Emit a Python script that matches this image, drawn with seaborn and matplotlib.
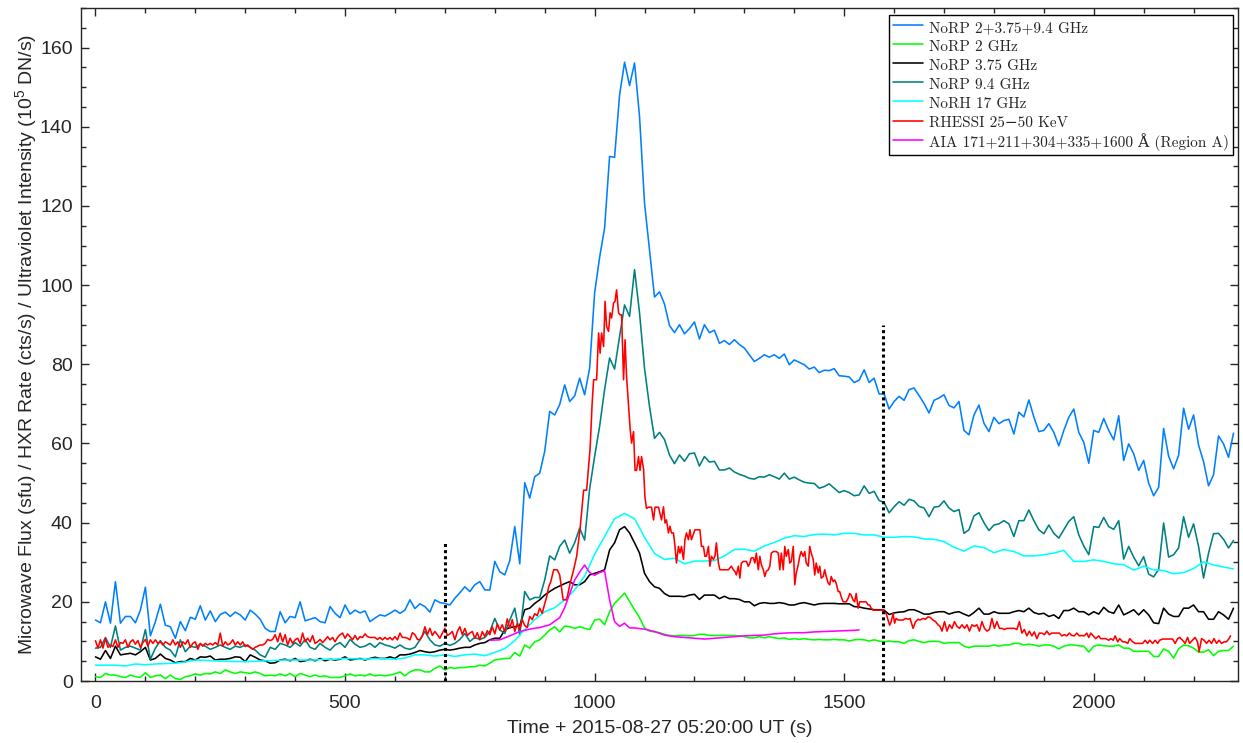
import numpy as np
import matplotlib
matplotlib.use("Agg")
import matplotlib.pyplot as plt
import seaborn as sns
from matplotlib.font_manager import FontProperties
from matplotlib.ticker import MultipleLocator

# ---------------- data ----------------
# NoRP series sampled every 10 s from 0 to 2280 s
t_norp = np.arange(0, 2290, 10)

norp_sum = [
    15.4, 14.7, 20.0, 14.6, 25.1, 14.6, 16.3, 16.3, 14.7, 17.9,
    23.7, 11.4, 15.0, 19.4, 14.1, 13.7, 10.8, 15.0, 12.7, 16.1,
    15.6, 19.0, 15.4, 17.7, 15.0, 16.8, 17.4, 16.3, 17.4, 16.7,
    15.4, 17.9, 16.9, 15.6, 13.3, 12.5, 12.5, 17.5, 14.7, 16.3,
    16.0, 20.0, 15.2, 15.6, 16.0, 15.0, 14.7, 18.8, 17.1, 16.0,
    19.2, 16.9, 17.9, 17.2, 17.7, 15.0, 15.9, 16.7, 16.4, 17.1,
    17.9, 17.1, 17.9, 20.5, 18.3, 19.5, 18.8, 17.4, 20.5, 19.8,
    19.6, 19.2, 20.9, 22.3, 23.8, 22.6, 24.3, 25.1, 23.0, 23.0,
    30.2, 27.6, 26.8, 30.4, 39.0, 29.6, 50.1, 46.2, 51.6, 52.5,
    58.0, 68.1, 67.2, 69.8, 74.8, 70.6, 72.0, 76.5, 72.3, 79.0,
    98.0, 107.0, 114.4, 132.5, 132.3, 148.0, 156.3, 150.4, 156.1, 142.6,
    120.7, 108.9, 97.0, 98.3, 95.2, 89.8, 88.0, 90.0, 87.7, 89.0,
    90.7, 86.4, 90.0, 88.0, 88.6, 85.3, 86.0, 85.0, 86.2, 85.0,
    84.1, 82.4, 80.7, 81.5, 82.4, 81.8, 82.4, 81.5, 82.6, 79.9,
    81.1, 80.5, 79.9, 78.8, 79.3, 77.9, 78.5, 78.4, 78.9, 77.1,
    77.0, 76.8, 75.4, 76.0, 78.6, 75.4, 76.5, 72.5, 72.5, 68.7,
    70.6, 71.9, 70.9, 73.6, 74.0, 72.1, 70.1, 67.7, 70.9, 71.5,
    72.3, 69.6, 69.0, 70.6, 63.3, 62.2, 67.2, 69.7, 65.1, 63.0,
    66.6, 65.0, 65.8, 66.1, 62.4, 67.9, 66.7, 71.0, 66.7, 63.0,
    63.3, 65.0, 62.8, 59.4, 63.3, 66.6, 68.7, 62.8, 60.3, 55.0,
    63.3, 62.8, 66.3, 63.3, 60.9, 67.0, 55.7, 59.9, 57.4, 53.2,
    55.7, 50.0, 46.8, 48.9, 63.8, 56.8, 53.6, 57.0, 68.9, 63.6,
    67.2, 59.6, 55.4, 49.3, 52.1, 61.9, 59.9, 56.5, 62.6,
]

norp_2 = [
    1.1, 0.9, 1.9, 1.5, 1.5, 1.1, 0.9, 1.5, 1.1, 0.9,
    2.1, 0.9, 1.3, 1.5, 0.6, 1.5, 0.6, 0.4, 1.1, 1.3,
    1.8, 1.5, 1.9, 1.8, 2.3, 1.9, 2.8, 2.3, 1.9, 2.3,
    2.1, 1.9, 2.3, 1.9, 1.3, 1.5, 1.3, 1.8, 1.3, 1.9,
    1.1, 1.9, 1.5, 1.1, 1.5, 1.1, 1.3, 0.9, 0.9, 0.9,
    1.3, 1.8, 1.3, 1.5, 1.3, 1.8, 1.3, 1.5, 1.3, 1.5,
    1.8, 2.3, 1.3, 2.3, 2.8, 2.8, 2.3, 2.3, 3.2, 3.8,
    2.8, 3.4, 3.2, 3.4, 3.4, 3.6, 3.6, 4.0, 3.8, 4.5,
    5.3, 5.5, 5.7, 5.7, 7.2, 6.3, 9.1, 8.3, 9.9, 10.4,
    11.6, 12.9, 13.7, 12.4, 13.9, 13.7, 13.3, 13.7, 13.3, 13.0,
    15.4, 15.6, 14.2, 17.5, 19.6, 20.9, 22.2, 20.1, 18.0, 16.0,
    13.4, 12.6, 12.4, 12.2, 11.8, 11.5, 11.4, 11.5, 11.5, 11.4,
    11.5, 11.8, 11.8, 11.5, 11.5, 11.5, 11.5, 11.5, 11.5, 11.4,
    11.2, 10.9, 10.9, 11.2, 10.9, 11.2, 10.9, 10.7, 10.9, 10.5,
    10.7, 10.5, 10.7, 10.5, 10.4, 10.5, 10.4, 10.4, 10.5, 10.4,
    10.4, 10.1, 10.4, 10.5, 10.4, 10.1, 10.4, 10.1, 9.9, 10.1,
    9.9, 9.9, 9.5, 10.2, 10.4, 10.0, 9.7, 10.0, 10.0, 10.0,
    9.5, 9.7, 9.7, 9.7, 8.8, 8.4, 8.8, 8.8, 8.8, 8.8,
    9.1, 8.8, 9.1, 9.1, 9.5, 9.5, 9.1, 9.3, 9.1, 8.8,
    9.1, 9.1, 8.8, 8.1, 8.8, 9.1, 9.1, 8.9, 8.8, 7.3,
    8.8, 9.1, 8.9, 8.8, 8.8, 9.1, 8.3, 8.3, 7.5, 7.5,
    7.5, 7.5, 6.2, 6.2, 8.1, 7.5, 5.8, 8.1, 9.1, 8.9,
    8.3, 7.3, 7.3, 7.9, 6.4, 7.5, 7.7, 7.7, 8.8,
]

norp_375 = [
    6.1, 5.5, 7.7, 5.7, 8.8, 6.6, 6.8, 7.0, 6.6, 7.4,
    8.5, 5.3, 5.7, 6.8, 5.7, 5.3, 4.6, 4.9, 4.9, 5.7,
    5.3, 6.1, 6.0, 6.3, 5.3, 5.5, 5.5, 5.7, 6.1, 6.0,
    4.9, 6.6, 6.0, 5.3, 5.1, 4.5, 4.6, 5.3, 5.5, 5.1,
    5.7, 4.9, 5.1, 5.5, 5.1, 5.7, 5.1, 5.5, 5.3, 5.5,
    6.1, 5.3, 5.5, 5.7, 5.3, 5.7, 6.0, 5.7, 5.7, 6.1,
    5.7, 6.6, 6.6, 6.8, 7.2, 7.7, 7.4, 7.2, 7.4, 7.8,
    8.0, 7.8, 8.0, 8.3, 8.5, 8.5, 9.1, 9.5, 9.7, 10.4,
    10.8, 10.8, 12.9, 13.5, 13.7, 14.0, 18.0, 18.4, 19.6, 20.5,
    21.7, 22.6, 23.4, 24.0, 24.6, 25.1, 24.3, 24.3, 25.1, 26.8,
    27.2, 27.6, 28.1, 33.1, 34.9, 38.2, 39.0, 37.4, 34.9, 32.3,
    27.2, 25.1, 23.8, 23.4, 22.1, 21.4, 21.4, 21.4, 21.3, 21.7,
    21.9, 20.6, 21.7, 21.7, 21.7, 20.8, 21.4, 20.8, 20.8, 20.6,
    20.0, 20.0, 19.0, 19.6, 19.8, 19.6, 19.6, 19.8, 19.6, 19.2,
    19.2, 19.6, 19.8, 19.5, 19.2, 19.5, 19.6, 19.6, 19.6, 19.5,
    19.5, 19.5, 18.8, 18.7, 18.4, 18.2, 18.0, 18.0, 17.9, 16.8,
    17.2, 17.4, 17.5, 18.0, 18.0, 17.5, 16.9, 16.9, 17.3, 17.5,
    17.5, 16.9, 17.3, 17.5, 16.9, 16.4, 17.3, 18.4, 16.9, 16.9,
    17.5, 17.1, 17.1, 17.1, 17.5, 17.8, 17.5, 18.4, 17.3, 16.9,
    17.1, 16.3, 16.7, 15.8, 17.8, 17.8, 18.4, 17.5, 17.5, 16.7,
    17.5, 16.9, 18.6, 17.5, 17.1, 19.2, 16.7, 17.3, 18.0, 16.7,
    18.0, 16.7, 14.7, 14.5, 18.4, 16.9, 16.3, 16.3, 18.4, 18.4,
    19.2, 17.5, 17.5, 15.6, 15.6, 17.5, 16.7, 15.6, 18.4,
]

norp_94 = [
    8.3, 8.5, 11.0, 8.5, 13.9, 7.8, 8.5, 8.8, 8.3, 7.8,
    13.0, 5.5, 8.3, 10.2, 8.5, 7.8, 6.1, 10.4, 7.4, 8.8,
    8.5, 9.3, 8.8, 8.0, 8.5, 9.1, 8.5, 8.0, 8.8, 8.5,
    9.1, 8.5, 7.8, 6.6, 6.0, 8.5, 8.0, 9.5, 9.1, 8.5,
    9.7, 8.8, 10.5, 8.5, 8.0, 9.5, 8.5, 7.8, 9.1, 9.7,
    8.5, 10.5, 9.3, 8.5, 8.8, 9.5, 8.5, 9.7, 9.1, 8.8,
    8.3, 9.1, 8.3, 8.0, 8.5, 10.4, 12.5, 10.4, 9.1, 8.8,
    9.5, 9.0, 9.5, 10.5, 12.0, 10.0, 11.0, 10.5, 11.0, 12.5,
    15.8, 12.9, 12.0, 15.4, 18.4, 11.6, 22.6, 20.5, 21.1, 21.1,
    25.5, 31.6, 30.6, 34.0, 35.6, 32.3, 34.9, 38.6, 35.6, 48.5,
    56.7, 64.3, 73.6, 81.6, 78.8, 87.0, 95.0, 92.1, 103.9, 93.0,
    79.0, 69.3, 61.3, 62.8, 61.0, 57.1, 54.9, 57.1, 55.5, 57.4,
    57.6, 54.3, 56.7, 55.3, 55.5, 53.3, 53.3, 53.8, 52.8, 52.2,
    51.8, 51.2, 51.0, 51.6, 51.5, 52.1, 51.6, 51.0, 52.5, 51.0,
    51.5, 50.8, 50.2, 50.0, 49.9, 48.7, 49.1, 49.8, 48.7, 47.6,
    48.1, 47.6, 46.8, 47.0, 49.3, 47.4, 47.9, 45.6, 45.1, 42.5,
    44.0, 45.3, 44.4, 45.9, 45.5, 44.1, 43.7, 41.5, 43.9, 44.1,
    45.5, 43.7, 42.8, 43.3, 37.3, 38.2, 41.7, 42.5, 40.0, 38.0,
    39.4, 39.7, 40.5, 39.7, 36.5, 40.5, 40.5, 43.2, 40.5, 38.2,
    37.2, 39.4, 37.3, 36.1, 38.2, 40.3, 41.5, 36.9, 34.1, 31.9,
    39.0, 38.8, 41.3, 39.0, 38.3, 40.5, 30.8, 34.0, 31.3, 29.1,
    31.4, 27.0, 26.3, 28.2, 39.9, 31.3, 31.9, 33.6, 41.5, 36.3,
    39.7, 34.0, 26.0, 32.3, 37.2, 37.3, 35.8, 33.6, 35.5,
]

# NoRH 17 GHz, every 20 s
t_norh = np.arange(0, 2290, 20)
norh_17 = [
    4.0, 4.0, 4.0, 3.8, 4.3, 4.1, 4.3, 4.4, 4.5, 4.8,
    5.3, 5.2, 5.1, 5.0, 4.9, 4.9, 5.0, 5.1, 5.2, 5.3,
    5.3, 5.3, 5.3, 5.5, 5.5, 5.7, 5.6, 5.5, 5.7, 5.6,
    5.5, 5.8, 6.6, 6.6, 6.3, 6.6, 6.2, 6.6, 6.8, 6.4,
    7.2, 8.2, 10.2, 13.0, 15.5, 17.5, 18.5, 20.5, 23.0, 26.5,
    32.0, 36.5, 41.0, 42.3, 41.0, 36.3, 32.2, 30.7, 31.0, 29.6,
    30.3, 30.3, 30.4, 31.6, 33.2, 33.3, 32.8, 34.1, 35.0, 36.1,
    36.7, 36.5, 37.0, 37.1, 36.9, 37.3, 37.3, 36.9, 36.9, 36.3,
    36.3, 36.5, 36.4, 35.9, 35.8, 35.2, 33.8, 32.8, 34.1, 33.7,
    32.4, 33.2, 32.7, 31.6, 31.6, 31.9, 32.3, 33.0, 30.2, 30.2,
    30.6, 30.2, 29.6, 29.4, 28.0, 29.0, 28.1, 27.9, 27.1, 27.4,
    28.4, 30.1, 29.3, 28.8, 28.3,
]

# RHESSI 25-50 keV: every 5 s up to 830 s, then irregular samples
t_hxr_early = np.arange(0, 835, 5)
hxr_early = [
    10.2, 8.3, 10.4, 8.3, 10.8, 8.5, 9.1, 8.7, 10.4, 8.5, 9.7, 9.5, 10.4, 8.5, 9.9, 10.4, 9.3, 10.2, 8.5, 9.7,
    10.5, 8.8, 10.4, 9.5, 10.4, 9.5, 9.9, 9.1, 9.9, 9.5, 9.1, 10.4, 9.1, 9.9, 8.5, 9.9, 9.3, 10.4, 8.5, 9.5,
    9.9, 8.0, 9.5, 8.8, 9.5, 9.1, 9.5, 9.1, 9.7, 9.1, 12.1, 8.8, 9.9, 9.1, 9.5, 10.4, 9.1, 9.9, 9.1, 9.9,
    8.7, 9.1, 8.5, 8.0, 8.5, 8.8, 9.1, 9.1, 9.5, 10.5, 10.2, 10.5, 11.7, 9.9, 12.1, 9.9, 11.7, 9.1, 10.8, 9.5,
    10.4, 10.8, 9.5, 12.1, 9.9, 10.8, 9.9, 11.5, 9.5, 9.9, 10.5, 9.7, 10.4, 11.2, 10.4, 11.0, 9.9, 11.0, 11.7, 12.1,
    10.8, 11.9, 11.2, 10.4, 11.5, 10.4, 11.2, 11.0, 11.9, 11.2, 11.0, 11.0, 11.0, 10.5, 11.0, 10.4, 11.0, 10.5, 11.0, 10.4,
    11.2, 10.4, 12.1, 11.0, 11.0, 10.8, 10.4, 12.2, 11.7, 10.5, 10.4, 11.5, 13.7, 11.7, 13.3, 11.5, 12.5, 11.7, 10.8, 12.1,
    13.3, 11.5, 11.9, 12.5, 10.4, 12.5, 13.7, 11.7, 13.3, 11.5, 12.1, 12.5, 10.8, 12.2, 10.4, 12.5, 11.2, 12.7, 11.7, 13.7,
    11.9, 14.4, 12.9, 14.2, 12.5, 15.7, 13.3,
]
t_hxr_late = [
    835, 840, 845, 850, 855, 860, 865, 870, 875, 880, 885, 890, 895, 900, 904, 908, 912, 918, 925, 930,
    937, 944, 951, 958, 964, 971, 978, 984, 991, 995, 998, 1004, 1008, 1011, 1014, 1018, 1021, 1024, 1028, 1031,
    1034, 1038, 1041, 1044, 1048, 1051, 1054, 1058, 1061, 1064, 1068, 1071, 1074, 1078, 1081, 1084, 1088, 1091, 1094, 1098,
    1101, 1104, 1108, 1114, 1118, 1121, 1128, 1134, 1138, 1141, 1144, 1148, 1151, 1154, 1158, 1161, 1164, 1168, 1171, 1174,
    1178, 1181, 1184, 1188, 1191, 1194, 1201, 1208, 1211, 1214, 1218, 1221, 1224, 1228, 1231, 1234, 1238, 1241, 1244, 1248,
    1251, 1254, 1261, 1268, 1274, 1278, 1281, 1284, 1288, 1291, 1294, 1298, 1304, 1308, 1311, 1314, 1318, 1321, 1324, 1328,
    1331, 1334, 1338, 1341, 1344, 1348, 1351, 1354, 1358, 1364, 1368, 1371, 1374, 1378, 1381, 1384, 1388, 1391, 1394, 1398,
    1401, 1404, 1408, 1411, 1414, 1418, 1421, 1424, 1428, 1431, 1434, 1438, 1441, 1444, 1448, 1451, 1454, 1458, 1461, 1464,
    1468, 1471, 1474, 1478, 1481, 1484, 1488, 1491, 1494, 1498, 1501, 1504, 1508, 1511, 1514, 1518, 1521, 1524, 1528, 1531,
    1534, 1538, 1541, 1544, 1548, 1551, 1554, 1558, 1564, 1571, 1578, 1581, 1584, 1588, 1591, 1594, 1598, 1601, 1604, 1608,
    1618, 1623, 1628, 1632, 1638, 1643, 1648, 1652, 1658, 1663, 1668, 1672, 1678, 1683, 1688, 1692, 1696, 1701, 1706, 1711,
    1716, 1721, 1726, 1731, 1736, 1741, 1746, 1751, 1756, 1761, 1766, 1771, 1776, 1781, 1786, 1791, 1796, 1801, 1806, 1811,
    1816, 1821, 1826, 1831, 1836, 1841, 1846, 1851, 1856, 1861, 1866, 1871, 1876, 1881, 1886, 1891, 1896, 1901, 1906, 1911,
    1916, 1921, 1926, 1931, 1936, 1941, 1946, 1951, 1956, 1961, 1966, 1971, 1976, 1981, 1986, 1990, 1994, 1999, 2004, 2010,
    2014, 2019, 2024, 2030, 2034, 2039, 2043, 2048, 2052, 2058, 2063, 2068, 2072, 2078, 2083, 2088, 2092, 2098, 2103, 2108,
    2112, 2118, 2123, 2128, 2132, 2138, 2143, 2148, 2152, 2158, 2163, 2168, 2172, 2178, 2183, 2188, 2192, 2198, 2203, 2208,
    2211, 2216, 2221, 2226, 2231, 2236, 2241, 2246, 2251, 2256, 2261, 2266, 2271, 2274,
]
hxr_late = [
    15.5, 12.5, 14.5, 13.0, 15.5, 14.0, 13.5, 16.3, 15.5, 17.0, 16.5, 18.4, 17.1, 19.5, 21.3, 23.8, 25.0, 28.1, 28.1, 26.8,
    20.5, 20.5, 24.7, 28.1, 31.5, 38.6, 48.2, 48.2, 58.8, 70.0, 76.1, 76.1, 87.9, 82.8, 87.9, 84.5, 95.9, 89.6, 88.3, 93.0,
    91.7, 95.5, 95.9, 98.8, 93.0, 92.5, 92.5, 76.1, 86.2, 76.9, 69.3, 64.0, 60.1, 63.0, 53.2, 53.2, 56.7, 53.2, 56.7, 53.6,
    46.2, 43.6, 43.9, 43.9, 40.7, 43.9, 43.9, 40.7, 44.0, 39.9, 40.7, 37.4, 39.1, 37.4, 37.4, 34.0, 29.8, 34.0, 32.3, 34.0,
    30.7, 35.7, 37.4, 35.7, 38.2, 35.7, 38.2, 38.2, 38.2, 34.0, 34.0, 31.5, 31.5, 34.0, 29.0, 31.5, 30.7, 31.5, 34.9, 29.8,
    28.1, 28.1, 28.1, 28.1, 29.0, 28.1, 27.7, 26.8, 29.0, 26.0, 29.8, 30.2, 30.2, 29.0, 29.8, 31.1, 31.1, 29.8, 32.3, 28.1,
    31.5, 29.4, 28.1, 26.4, 27.7, 28.1, 29.0, 32.3, 32.7, 32.7, 32.3, 28.1, 32.3, 28.1, 34.0, 31.5, 33.2, 29.8, 30.2, 34.0,
    24.3, 27.3, 29.4, 31.5, 32.7, 31.5, 32.7, 29.8, 29.0, 34.0, 32.3, 30.7, 26.8, 29.8, 27.3, 29.0, 26.0, 26.4, 28.1, 26.4,
    24.7, 24.3, 26.4, 25.1, 25.5, 24.7, 22.6, 22.6, 21.3, 20.0, 20.0, 20.0, 20.9, 22.1, 21.7, 20.4, 20.0, 22.1, 18.4, 20.0,
    20.0, 20.0, 20.0, 20.0, 19.2, 19.2, 18.4, 17.9, 17.9, 17.9, 17.9, 17.2, 17.1, 15.4, 14.1, 14.9, 17.1, 14.6, 15.8, 15.4,
    15.4, 15.8, 15.6, 15.8, 13.3, 15.0, 15.6, 15.4, 15.8, 15.6, 16.2, 16.1, 15.4, 15.0, 14.2, 13.8, 12.6, 15.0, 12.6, 14.2,
    13.3, 15.0, 13.8, 13.3, 14.2, 13.3, 14.2, 12.6, 14.2, 13.8, 14.2, 12.6, 15.0, 13.3, 12.6, 13.0, 15.8, 13.3, 15.0, 13.3,
    13.3, 13.0, 13.3, 13.3, 13.3, 13.3, 13.0, 15.0, 12.1, 13.0, 11.4, 12.6, 11.4, 12.4, 10.7, 12.1, 12.1, 11.7, 12.6, 11.7,
    12.1, 12.1, 12.1, 12.1, 11.4, 11.7, 11.4, 12.1, 11.5, 11.4, 12.1, 11.4, 11.5, 11.4, 12.1, 11.0, 12.1, 11.4, 10.7, 11.4,
    10.7, 10.7, 10.7, 10.3, 10.7, 10.3, 11.4, 9.9, 10.7, 9.9, 9.9, 9.5, 10.7, 9.9, 9.5, 9.5, 9.5, 9.5, 10.3, 9.5,
    10.3, 9.5, 10.3, 9.5, 10.3, 10.6, 10.6, 10.6, 10.6, 10.6, 9.5, 10.7, 11.0, 10.3, 9.5, 11.0, 9.5, 10.3, 11.0, 9.9,
    7.4, 10.7, 10.3, 9.5, 10.3, 9.5, 10.7, 9.5, 10.3, 9.5, 9.9, 9.9, 10.7, 11.4,
]

# AIA multi-band sum, Region A
t_aia = [790, 810, 830, 850, 870, 890, 910, 930,
         940, 950, 960, 970, 980, 990, 1000, 1010, 1020, 1030, 1040, 1050, 1060, 1070, 1080,
         1100, 1120, 1140, 1160, 1180, 1200, 1220, 1240, 1260, 1280, 1300, 1320, 1340, 1360,
         1380, 1400, 1420, 1440, 1460, 1480, 1500, 1520, 1530]
aia = [10.3, 10.4, 11.4, 12.5, 13.1, 13.5, 14.2, 16.0,
       18.5, 22.0, 25.5, 27.5, 29.3, 27.4, 26.7, 27.4, 27.8, 20.5, 15.0, 13.8, 14.6, 13.4, 13.4,
       13.1, 12.5, 11.6, 11.2, 11.0, 10.8, 10.6, 10.8, 11.0, 11.2, 11.4, 11.5, 11.6, 11.9,
       12.1, 12.2, 12.2, 12.4, 12.5, 12.6, 12.7, 12.8, 12.9]

# dotted time markers (time, top value)
marker_t = [700, 1577]
marker_top = [35, 90]

labels = [
    "NoRP 2+3.75+9.4 GHz",
    "NoRP 2 GHz",
    "NoRP 3.75 GHz",
    "NoRP 9.4 GHz",
    "NoRH 17 GHz",
    "RHESSI 25\u221250 KeV",
    "AIA 171+211+304+335+1600 \u00c5 (Region A)",
]
colors = ["#0080ff", "#00ff00", "#000000", "#008080", "#00ffff", "#ff0000", "#ff00ff"]

# ---------------- style ----------------
sns.set_theme(style="ticks")
plt.rcParams["font.family"] = ["Liberation Sans", "DejaVu Sans"]
plt.rcParams["mathtext.fontset"] = "custom"
plt.rcParams["mathtext.rm"] = "Liberation Sans"
plt.rcParams["mathtext.it"] = "Liberation Sans:italic"
plt.rcParams["mathtext.bf"] = "Liberation Sans:bold"

TXT = "#262626"

fig = plt.figure(figsize=(12.43, 7.43), dpi=100)
ax = fig.add_axes([81 / 1243, 62 / 743, 1157 / 1243, 673 / 743])

hxr_t = np.concatenate([t_hxr_early, t_hxr_late])
hxr_v = np.concatenate([hxr_early, hxr_late])

series = [
    (t_norp, norp_sum),
    (t_norp, norp_2),
    (t_norp, norp_375),
    (t_norp, norp_94),
    (t_norh, norh_17),
    (hxr_t, hxr_v),
    (t_aia, aia),
]
for (tx, vy), lab, col in zip(series, labels, colors):
    sns.lineplot(x=np.asarray(tx, float), y=np.asarray(vy, float), ax=ax, color=col,
                 linewidth=1.15, label=lab, estimator=None, sort=False)

ax.vlines(marker_t, 0, marker_top, colors="black", linestyles=(0, (1, 1)), linewidth=2.2)

ax.set_xlim(-29, 2289)
ax.set_ylim(0, 170)
ax.xaxis.set_major_locator(MultipleLocator(500))
ax.xaxis.set_minor_locator(MultipleLocator(100))
ax.yaxis.set_major_locator(MultipleLocator(20))
ax.yaxis.set_minor_locator(MultipleLocator(5))
ax.tick_params(which="both", direction="in", top=True, right=True, colors=TXT,
               labelcolor=TXT, width=1.0)
ax.tick_params(which="major", length=6, labelsize=14)
ax.tick_params(axis="x", which="major", pad=10)
ax.tick_params(axis="y", which="major", pad=6)
ax.tick_params(which="minor", length=3.5)
for s in ax.spines.values():
    s.set_color(TXT)
    s.set_linewidth(1.0)
    s.set_visible(True)

ax.set_xlabel("Time + 2015-08-27 05:20:00 UT (s)", fontsize=14, color=TXT, labelpad=6)
ax.set_ylabel("Microwave Flux (sfu) / HXR Rate (cts/s) / Ultraviolet Intensity (10$^5$ DN/s)",
              fontsize=14, color=TXT, labelpad=1)

leg_font = FontProperties(family=["cmr10", "DejaVu Serif"], size=11)
leg = ax.legend(loc="upper right", bbox_to_anchor=(0.9957, 0.9896), borderaxespad=0,
                prop=leg_font, frameon=True, fancybox=False, shadow=False,
                handlelength=2.0, handleheight=1.2, handletextpad=0.4,
                labelspacing=0.2, borderpad=0.25)
leg.get_frame().set_edgecolor("black")
leg.get_frame().set_linewidth(1.0)
leg.get_frame().set_alpha(1.0)
for h in leg.get_lines():
    h.set_linewidth(1.15)

fig.savefig("out.png", dpi=100)
